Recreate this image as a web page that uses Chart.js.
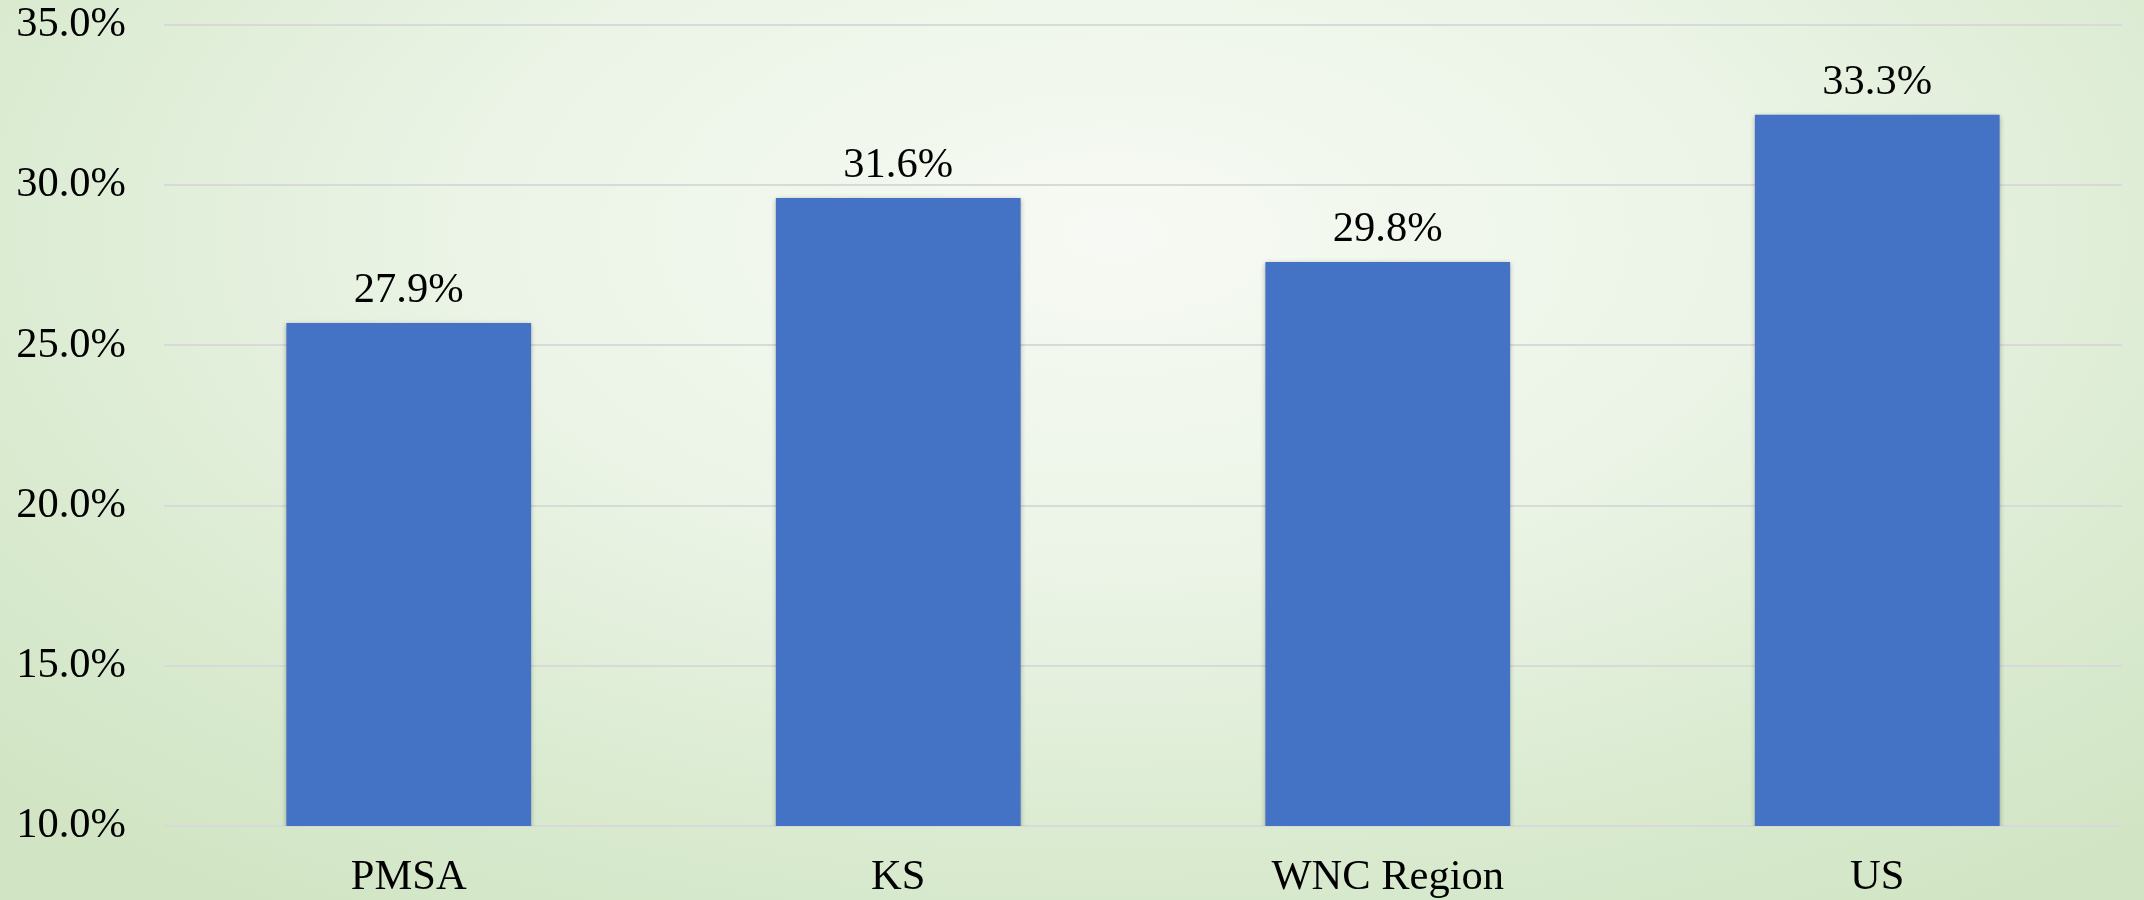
<!DOCTYPE html>
<html>
<head>
<meta charset="utf-8">
<script src="https://cdn.jsdelivr.net/npm/chart.js@4"></script>
<style>
  html, body { margin: 0; padding: 0; }
  body {
    width: 2144px; height: 900px; overflow: hidden;
    background: radial-gradient(ellipse 72% 90% at 52% 26%, #f7faf4 0%, #ebf4e6 42%, #d9eacf 78%, #d1e5c4 100%);
  }
  #wrap { position: absolute; left: 0; top: 0; width: 2144px; height: 900px; }
</style>
</head>
<body>
<div id="wrap"><canvas id="c" width="2144" height="900"></canvas></div>
<script>
const categories = ["PMSA", "KS", "WNC Region", "US"];
const barValues = [25.7, 29.6, 27.6, 32.2];
const valueLabels = ["27.9%", "31.6%", "29.8%", "33.3%"];
const yTicks = [10, 15, 20, 25, 30, 35];

const FONT = "'Liberation Serif', 'Times New Roman', serif";
const FSIZE = 42.5;

const shadowPlugin = {
  id: 'barShadow',
  beforeDatasetsDraw(chart) {
    const ctx = chart.ctx;
    ctx.save();
    ctx.shadowColor = 'rgba(0,0,0,0.35)';
    ctx.shadowBlur = 5;
    ctx.shadowOffsetX = 0;
    ctx.shadowOffsetY = 1;
  },
  afterDatasetsDraw(chart) {
    chart.ctx.restore();
  }
};

const labelPlugin = {
  id: 'valueLabels',
  afterDatasetsDraw(chart) {
    const ctx = chart.ctx;
    const meta = chart.getDatasetMeta(0);
    ctx.save();
    ctx.font = FSIZE + "px " + FONT;
    ctx.fillStyle = '#000';
    ctx.textAlign = 'center';
    ctx.textBaseline = 'alphabetic';
    meta.data.forEach((bar, i) => {
      ctx.fillText(valueLabels[i], bar.x, bar.y - 21);
    });
    ctx.restore();
  }
};

new Chart(document.getElementById('c'), {
  type: 'bar',
  data: {
    labels: categories,
    datasets: [{
      data: barValues,
      backgroundColor: '#4472C4',
      borderWidth: 0,
      categoryPercentage: 0.5,
      barPercentage: 1.0
    }]
  },
  options: {
    responsive: false,
    animation: false,
    events: [],
    layout: { padding: { top: 25, right: 22, bottom: 0, left: 0 } },
    plugins: { legend: { display: false }, tooltip: { enabled: false } },
    scales: {
      y: {
        min: 10, max: 35,
        afterBuildTicks(scale) { scale.ticks = yTicks.map(v => ({ value: v })); },
        afterFit(scale) { scale.width = 164; scale.paddingTop = 0; scale.paddingBottom = 0; },
        ticks: {
          padding: 38,
          color: '#000',
          font: { family: FONT, size: FSIZE },
          callback: v => Number(v).toFixed(1) + '%'
        },
        grid: { color: '#d9d9d9', lineWidth: 2, drawTicks: false },
        border: { display: false }
      },
      x: {
        afterFit(scale) { scale.height = 74; scale.paddingLeft = 0; scale.paddingRight = 0; },
        ticks: {
          padding: 26,
          color: '#000',
          font: { family: FONT, size: FSIZE }
        },
        grid: { display: false, drawTicks: false },
        border: { display: false }
      }
    }
  },
  plugins: [shadowPlugin, labelPlugin]
});
</script>
</body>
</html>
